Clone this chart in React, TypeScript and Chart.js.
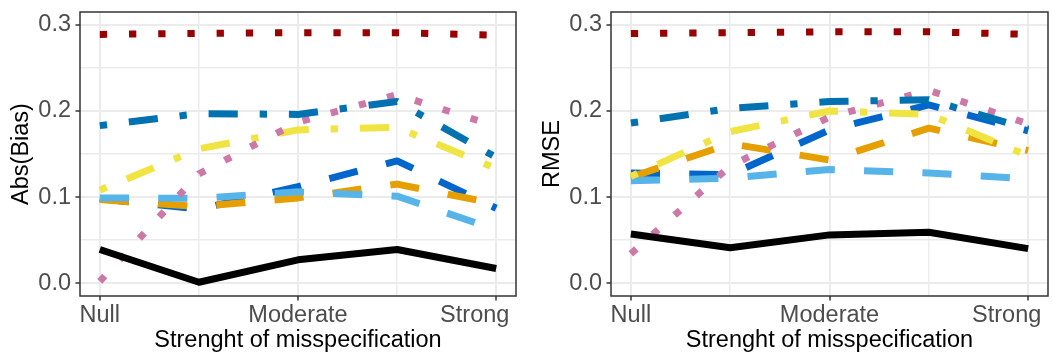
import React, { useEffect, useRef } from "react";
import { Chart, registerables } from "chart.js";

Chart.register(...registerables);

// Strength levels (x positions) and the labelled ones
const levels = [1, 2, 3, 4, 5];
const levelTickValues = [1, 3, 5];
const levelTickLabels = ["Null", "Moderate", "Strong"];

// Y ticks (every 0.05; only the tenths carry a label)
const yTickValues = [0, 0.05, 0.1, 0.15, 0.2, 0.25, 0.3];
const yTickLabels = ["0.0", "", "0.1", "", "0.2", "", "0.3"];

// Abs(Bias) per method
const biasBlack = [0.039, 0.001, 0.027, 0.039, 0.017];
const biasDarkRed = [0.289, 0.29, 0.291, 0.291, 0.288];
const biasDarkBlue = [0.183, 0.197, 0.196, 0.211, 0.146];
const biasYellow = [0.108, 0.156, 0.178, 0.181, 0.133];
const biasPink = [0.002, 0.127, 0.187, 0.219, 0.182];
const biasBlue = [0.098, 0.086, 0.112, 0.142, 0.087];
const biasOrange = [0.097, 0.089, 0.099, 0.115, 0.092];
const biasSkyBlue = [0.099, 0.0985, 0.106, 0.101, 0.062];

// RMSE per method
const rmseBlack = [0.057, 0.041, 0.056, 0.059, 0.04];
const rmseDarkRed = [0.29, 0.291, 0.292, 0.292, 0.289];
const rmseDarkBlue = [0.186, 0.203, 0.211, 0.213, 0.179];
const rmseYellow = [0.124, 0.176, 0.2, 0.196, 0.148];
const rmsePink = [0.034, 0.136, 0.193, 0.224, 0.185];
const rmseBlue = [0.128, 0.126, 0.178, 0.207, 0.177];
const rmseOrange = [0.123, 0.162, 0.143, 0.18, 0.154];
const rmseSkyBlue = [0.119, 0.122, 0.132, 0.128, 0.121];

// Line styling
const LINE_W = 7;
const U = 7.3;
const DOTTED = [U, 3 * U];
const DOTDASH = [U, 3 * U, 4 * U, 3 * U];
const DASHED = [4 * U, 4 * U];
const SOLID: number[] = [];

const FONT_FAMILY = "'Liberation Sans', Arial, Helvetica, sans-serif";
const FONT_SIZE = 23.5;

type SeriesStyle = { color: string; dash: number[]; order: number };

const styles: Record<string, SeriesStyle> = {
  darkRed: { color: "#990000", dash: DOTTED, order: 0 },
  black: { color: "#000000", dash: SOLID, order: 1 },
  darkBlue: { color: "#0072B2", dash: DOTDASH, order: 2 },
  pink: { color: "#CC79A7", dash: DOTTED, order: 3 },
  yellow: { color: "#F0E442", dash: DOTDASH, order: 4 },
  skyBlue: { color: "#56B4E9", dash: DASHED, order: 5 },
  orange: { color: "#E69F00", dash: DASHED, order: 6 },
  blue: { color: "#0066CC", dash: DASHED, order: 7 },
};

const biasSeries: Record<string, number[]> = {
  darkRed: biasDarkRed,
  black: biasBlack,
  darkBlue: biasDarkBlue,
  pink: biasPink,
  yellow: biasYellow,
  skyBlue: biasSkyBlue,
  orange: biasOrange,
  blue: biasBlue,
};

const rmseSeries: Record<string, number[]> = {
  darkRed: rmseDarkRed,
  black: rmseBlack,
  darkBlue: rmseDarkBlue,
  pink: rmsePink,
  yellow: rmseYellow,
  skyBlue: rmseSkyBlue,
  orange: rmseOrange,
  blue: rmseBlue,
};

// horizontal anchoring of the level labels (0 = left, 1 = right)
const levelLabelHjust = [0.5, 0.5, 0.81];

const panelDecor = {
  id: "panelDecor",
  afterDatasetsDraw(chart: any) {
    const { ctx, chartArea } = chart;
    ctx.save();
    ctx.strokeStyle = "#333333";
    ctx.lineWidth = 1.5;
    ctx.strokeRect(
      chartArea.left,
      chartArea.top,
      chartArea.right - chartArea.left,
      chartArea.bottom - chartArea.top
    );
    ctx.restore();
  },
  afterDraw(chart: any) {
    const { ctx, chartArea } = chart;
    const xs = chart.scales.x;
    ctx.save();
    ctx.font = `${FONT_SIZE}px ${FONT_FAMILY}`;
    ctx.fillStyle = "#4D4D4D";
    ctx.textBaseline = "alphabetic";
    ctx.textAlign = "left";
    levelTickValues.forEach((v, i) => {
      const label = levelTickLabels[i];
      const w = ctx.measureText(label).width;
      const px = xs.getPixelForValue(v);
      ctx.fillText(label, px - levelLabelHjust[i] * w, chartArea.bottom + 26);
    });
    ctx.restore();
  },
};

type PanelProps = {
  left: number;
  yTitle: string;
  series: Record<string, number[]>;
  yAxisWidth: number;
  rightPad: number;
  titlePad: number;
};

function Panel({ left, yTitle, series, yAxisWidth, rightPad, titlePad }: PanelProps) {
  const ref = useRef<HTMLCanvasElement | null>(null);

  useEffect(() => {
    if (!ref.current) return;
    const font = { family: FONT_FAMILY, size: FONT_SIZE, lineHeight: 1.2 };
    const isMajorX = (v: number) => levelTickValues.includes(v);
    const isMajorY = (v: number) => Math.round(v * 100) % 10 === 0;

    const datasets = Object.keys(series).map((key) => {
      const st = styles[key];
      return {
        label: key,
        data: levels.map((x, i) => ({ x, y: series[key][i] })),
        borderColor: st.color,
        backgroundColor: st.color,
        borderWidth: LINE_W,
        borderDash: st.dash,
        borderCapStyle: "butt" as const,
        borderJoinStyle: "round" as const,
        pointRadius: 0,
        tension: 0,
        fill: false,
        order: st.order,
      };
    });

    const chart = new Chart(ref.current, {
      type: "line",
      data: { datasets },
      plugins: [panelDecor],
      options: {
        animation: false,
        responsive: false,
        devicePixelRatio: 1,
        events: [],
        layout: { padding: { left: 0, right: rightPad, top: 12, bottom: 0 } },
        plugins: { legend: { display: false }, tooltip: { enabled: false } },
        scales: {
          x: {
            type: "linear",
            min: 0.8,
            max: 5.2,
            afterBuildTicks: (s: any) => {
              s.ticks = levels.map((v) => ({ value: v }));
            },
            afterFit: (s: any) => {
              s.height = 60;
              s.paddingLeft = 0;
              s.paddingRight = 0;
            },
            border: { display: false },
            grid: {
              color: "#EBEBEB",
              lineWidth: (c: any) => (isMajorX(c.tick?.value) ? 2 : 1.4),
              tickColor: (c: any) => (isMajorX(c.tick?.value) ? "#333333" : "rgba(0,0,0,0)"),
              tickWidth: 1.5,
              tickLength: 4.5,
              drawTicks: true,
            },
            ticks: { display: false },
            title: {
              display: true,
              text: "Strenght of misspecification",
              color: "#000000",
              font,
              padding: { top: 0, bottom: 1.2 },
            },
          },
          y: {
            type: "linear",
            min: -0.015,
            max: 0.315,
            afterBuildTicks: (s: any) => {
              s.ticks = yTickValues.map((v) => ({ value: v }));
            },
            afterFit: (s: any) => {
              s.width = yAxisWidth;
              s.paddingTop = 0;
              s.paddingBottom = 0;
            },
            border: { display: false },
            grid: {
              color: "#EBEBEB",
              lineWidth: (c: any) => (isMajorY(c.tick?.value) ? 2 : 1.4),
              tickColor: (c: any) => (isMajorY(c.tick?.value) ? "#333333" : "rgba(0,0,0,0)"),
              tickWidth: 1.5,
              tickLength: 4.5,
              drawTicks: true,
            },
            ticks: {
              autoSkip: false,
              color: "#4D4D4D",
              font,
              padding: 4.5,
              callback: (_v: any, i: number) => yTickLabels[i],
            },
            title: {
              display: true,
              text: yTitle,
              color: "#000000",
              font,
              padding: { top: titlePad, bottom: 0 },
            },
          },
        },
      },
    } as any);

    return () => chart.destroy();
  }, [series, yTitle, yAxisWidth, rightPad, titlePad]);

  return (
    <canvas
      ref={ref}
      width={526}
      height={356}
      style={{ position: "absolute", left, top: 0, width: 526, height: 356 }}
    />
  );
}

export default function App() {
  return (
    <div
      style={{
        position: "absolute",
        left: 0,
        top: 0,
        width: 1052,
        height: 356,
        background: "#ffffff",
        overflow: "hidden",
      }}
    >
      <Panel left={0} yTitle="Abs(Bias)" series={biasSeries} yAxisWidth={80} rightPad={10} titlePad={7.5} />
      <Panel left={526} yTitle="RMSE" series={rmseSeries} yAxisWidth={85} rightPad={4} titlePad={12.6} />
    </div>
  );
}
